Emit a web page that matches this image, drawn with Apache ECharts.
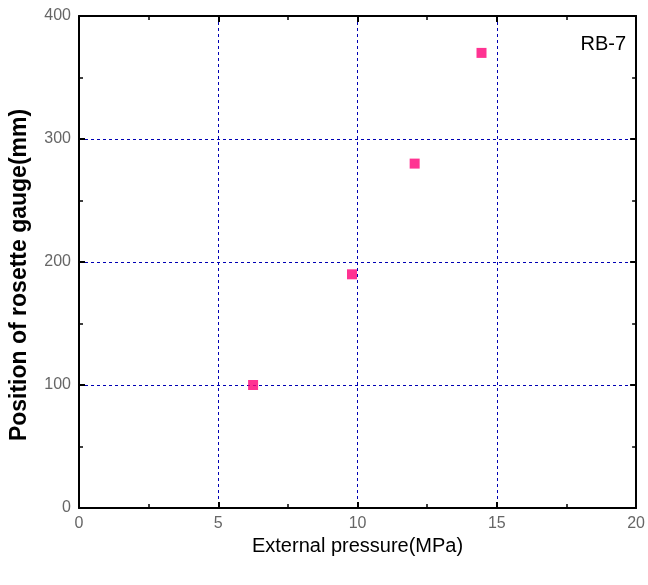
<!DOCTYPE html>
<html><head><meta charset="utf-8">
<script src="https://cdn.jsdelivr.net/npm/echarts@6/dist/echarts.min.js"></script>
<style>html,body{margin:0;padding:0;background:#fff}#c{width:648px;height:585px}</style>
</head><body><div id="c"></div>
<script>
const pressure = [6.25, 9.8, 12.05, 14.45];
const position = [100, 190, 280, 370];
const xTicks = [0, 5, 10, 15, 20];
const yTicks = [0, 100, 200, 300, 400];
const label = 'RB-7';

const chart = echarts.init(document.getElementById('c'));
const font = '"Liberation Sans Narrow","Liberation Sans",Arial,sans-serif';
const axisLine = {show: true, onZero: false, lineStyle: {color: '#000', width: 2}};
const split = {show: true, lineStyle: {color: '#0000b4', type: [3, 3], width: 1}};
const tick = {show: true, inside: true, length: 6, lineStyle: {color: '#000', width: 2}};
const minor = {show: true, splitNumber: 2, length: 4, lineStyle: {color: '#000', width: 1.5}};
chart.setOption({
  animation: false,
  grid: {left: 77, right: 11, top: 16, bottom: 77},
  xAxis: [{
    type: 'value', min: xTicks[0], max: xTicks[xTicks.length-1], interval: 5,
    axisLine, axisTick: tick, minorTick: minor, splitLine: split,
    axisLabel: {color: '#666', fontSize: 16, fontFamily: font, margin: 8},
    name: 'External pressure(MPa)', nameLocation: 'middle', nameGap: 21,
    nameTextStyle: {color: '#000', fontSize: 20, fontFamily: 'Liberation Sans,Arial,sans-serif'}
  }, {
    type: 'value', position: 'top', min: 0, max: 20, interval: 5,
    axisLine, axisTick: tick, minorTick: minor, splitLine: {show: false}, axisLabel: {show: false}
  }],
  yAxis: [{
    type: 'value', min: yTicks[0], max: yTicks[yTicks.length-1], interval: 100,
    axisLine, axisTick: tick, minorTick: minor, splitLine: split,
    axisLabel: {color: '#666', fontSize: 16, fontFamily: font, margin: 8},
    name: 'Position of rosette gauge(mm)', nameLocation: 'middle', nameGap: 48,
    nameTextStyle: {color: '#000', fontSize: 23, fontWeight: 'bold', fontFamily: 'Liberation Sans,Arial,sans-serif', padding: [0, 26, 0, 0]}
  }, {
    type: 'value', position: 'right', min: 0, max: 400, interval: 100,
    axisLine, axisTick: tick, minorTick: minor, splitLine: {show: false}, axisLabel: {show: false}
  }],
  graphic: [{
    type: 'text', right: 22, top: 34,
    style: {text: label, fill: '#000', fontSize: 20, fontFamily: font}
  }],
  series: [{
    type: 'scatter', symbol: 'rect', symbolSize: 10,
    itemStyle: {color: '#ff0077'},
    data: pressure.map((p, i) => [p, position[i]])
  }]
});
</script></body></html>
